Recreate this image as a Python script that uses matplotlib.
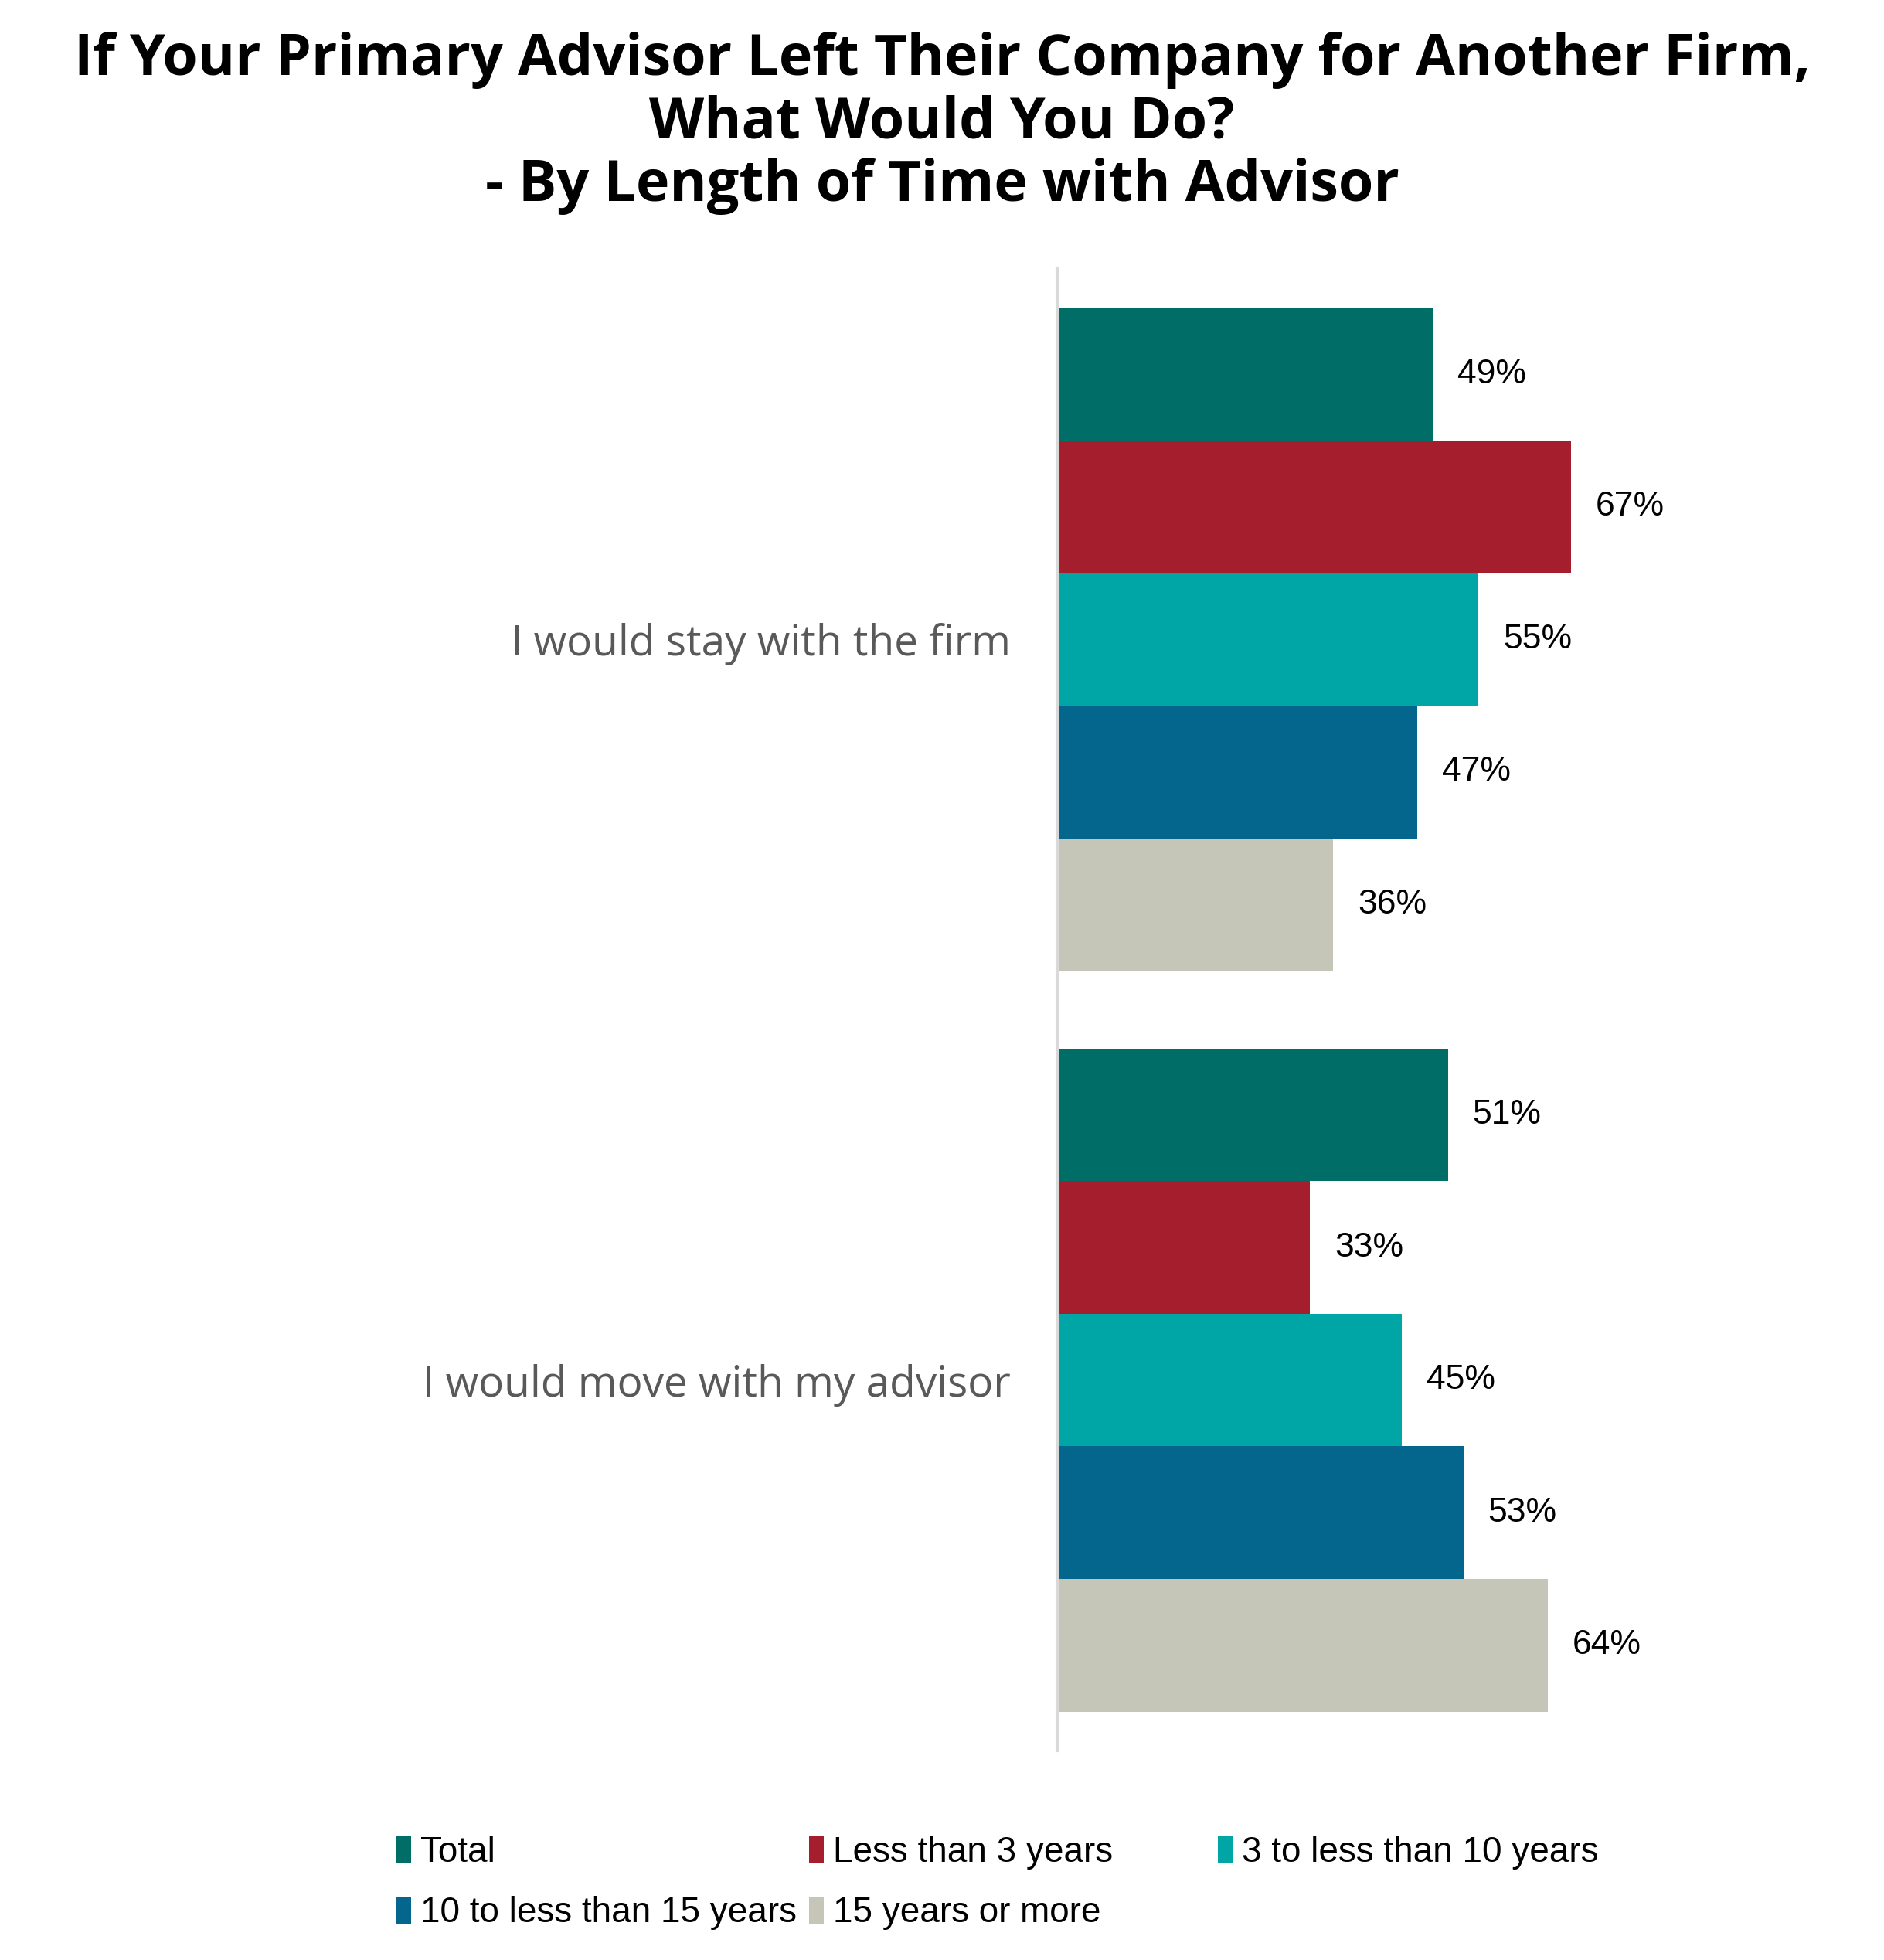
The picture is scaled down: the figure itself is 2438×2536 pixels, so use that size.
import numpy as np
import matplotlib.pyplot as plt

# ---------------- DATA ---------------- #

categories = ["I would stay with the firm", "I would move with my advisor"]
series_names = ["Total", "Less than 3 years", "3 to less than 10 years",
                "10 to less than 15 years", "15 years or more"]
total = [49, 51]
less_3 = [67, 33]
from_3_to_10 = [55, 45]
from_10_to_15 = [47, 53]
over_15 = [36, 64]
values = [total, less_3, from_3_to_10, from_10_to_15, over_15]

colors = ["#006D66", "#A51E2D", "#00A6A6", "#05668D", "#C5C5B8"]

# ---------------- PLOT ---------------- #

fig = plt.figure(figsize=(24.38, 25.36), dpi=100)
ax = fig.add_axes([0.561, 0.1069, 0.407, 0.7559])

n = len(series_names)
bar_h = 0.895 / n
y = np.arange(len(categories))
bars_all = []
for i, (name, vals) in enumerate(zip(series_names, values)):
    offs = (i - (n - 1) / 2) * bar_h
    bars = ax.barh(y + offs, vals, height=bar_h, color=colors[i], label=name)
    bars_all.append(bars)
    for b, v in zip(bars, vals):
        ax.annotate(f"{v}%", (b.get_width(), b.get_y() + b.get_height() / 2),
                    xytext=(23, 0), textcoords="offset points",
                    ha="left", va="center", fontsize=32,
                    family="Liberation Sans", color="black")

ax.set_xlim(0, 100)
ax.set_ylim(1.5, -0.5)
ax.set_yticks(y)
ax.set_yticklabels(categories, fontsize=39.5, family="Open Sans", color="#595959")
ax.tick_params(axis="y", length=0, pad=43)
ax.set_xticks([])
for s in ["top", "right", "bottom"]:
    ax.spines[s].set_visible(False)
ax.spines["left"].set_color("#D9D9D9")
ax.spines["left"].set_linewidth(3)

fig.suptitle("If Your Primary Advisor Left Their Company for Another Firm,\n"
             "What Would You Do?\n- By Length of Time with Advisor",
             x=0.5, y=0.984, fontsize=53, fontweight="bold", family="Open Sans",
             linespacing=1.14)

# legend laid out row by row, like the original
cols = [[0, 3], [1, 4], [2]]
col_x = [0.2105, 0.4295, 0.6465]
for cx, idx in zip(col_x, cols):
    fig.legend([bars_all[k] for k in idx], [series_names[k] for k in idx],
               loc="upper left", bbox_to_anchor=(cx, 0.0635),
               frameon=False, ncol=1,
               prop={"family": "Liberation Sans", "size": 33},
               handlelength=0.42, handleheight=0.8, handletextpad=0.25,
               labelspacing=0.75, borderpad=0, borderaxespad=0)

fig.savefig("out.png", dpi=100)
